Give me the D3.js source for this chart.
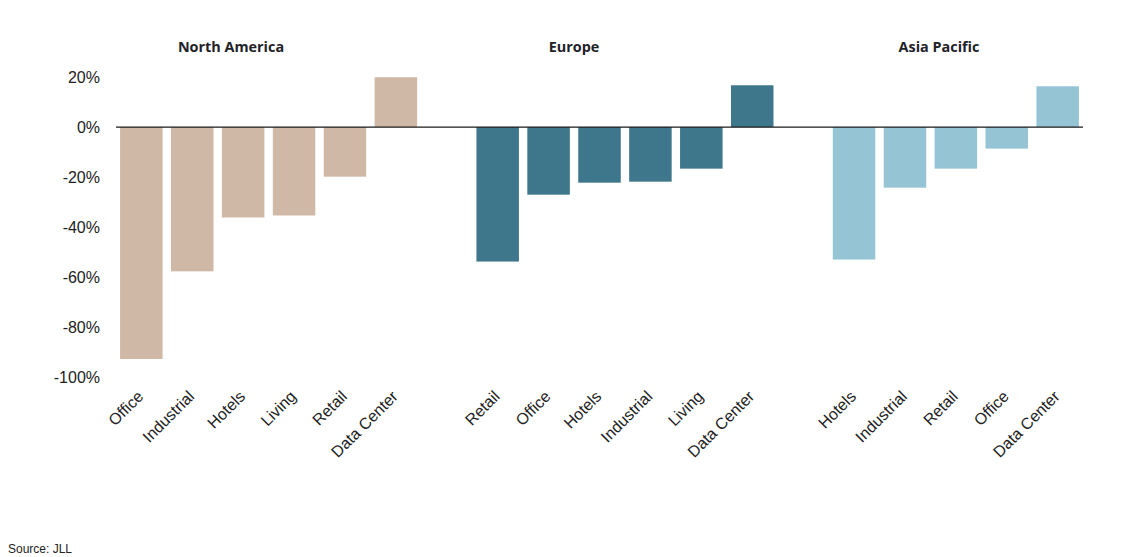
<!DOCTYPE html>
<html>
<head>
<meta charset="utf-8">
<script src="https://cdn.jsdelivr.net/npm/d3@7"></script>
<style>
  html, body { margin: 0; padding: 0; background: #fff; }
  svg { display: block; }
</style>
</head>
<body>
<svg id="chart" width="1123" height="557"></svg>
<script>
// ---- data ----
const regions = ["North America", "Europe", "Asia Pacific"];
const naCategories = ["Office", "Industrial", "Hotels", "Living", "Retail", "Data Center"];
const naValues = [-92.6, -57.6, -36.1, -35.3, -19.8, 19.9];
const euCategories = ["Retail", "Office", "Hotels", "Industrial", "Living", "Data Center"];
const euValues = [-53.7, -27.0, -22.2, -21.8, -16.6, 16.7];
const apCategories = ["Hotels", "Industrial", "Retail", "Office", "Data Center"];
const apValues = [-52.9, -24.2, -16.6, -8.6, 16.3];
const yTicks = [20, 0, -20, -40, -60, -80, -100];
const colors = ["#cfb8a6", "#3e768b", "#95c5d5"];
const sourceText = "Source: JLL";

// ---- build rows ----
const groups = [
  { name: regions[0], cats: naCategories, vals: naValues, color: colors[0] },
  { name: regions[1], cats: euCategories, vals: euValues, color: colors[1] },
  { name: regions[2], cats: apCategories, vals: apValues, color: colors[2] }
];
const domain = [];
const rows = [];
groups.forEach((g, gi) => {
  if (gi > 0) domain.push("gap" + gi);
  g.cats.forEach((c, i) => {
    const key = g.name + "|" + c;
    domain.push(key);
    rows.push({ key, cat: c, value: g.vals[i], color: g.color, group: gi });
  });
});

const svg = d3.select("#chart");
const x = d3.scaleBand().domain(domain).range([116, 1083]).paddingInner(0.165).paddingOuter(0.08);
const y = d3.scaleLinear().domain([-100, 20]).range([377.5, 77]);

// y axis labels
const yAxis = d3.axisLeft(y).tickValues(yTicks).tickSize(0).tickPadding(0).tickFormat(d => d + "%");
const yg = svg.append("g").attr("transform", "translate(100,0)").call(yAxis);
yg.select(".domain").remove();
yg.selectAll("text")
  .attr("font-family", "Arial, 'Liberation Sans', sans-serif")
  .attr("font-size", 16)
  .attr("fill", "#222");

// bars
svg.append("g").selectAll("rect").data(rows).join("rect")
  .attr("x", d => x(d.key))
  .attr("width", x.bandwidth())
  .attr("y", d => y(Math.max(0, d.value)))
  .attr("height", d => Math.abs(y(d.value) - y(0)))
  .attr("fill", d => d.color);

// zero line
svg.append("line")
  .attr("x1", x.range()[0]).attr("x2", x.range()[1])
  .attr("y1", y(0)).attr("y2", y(0))
  .attr("stroke", "#1a1a1a").attr("stroke-width", 1.2);

// x labels
svg.append("g").selectAll("text").data(rows).join("text")
  .attr("transform", d => `translate(${x(d.key) + x.bandwidth() / 2 + 3},${y(-100) + 20}) rotate(-45)`)
  .attr("text-anchor", "end")
  .attr("font-family", "Arial, 'Liberation Sans', sans-serif")
  .attr("font-size", 16)
  .attr("fill", "#222")
  .text(d => d.cat);

// region titles
const titleX = [231, 574, 939];
svg.append("g").selectAll("text").data(groups).join("text")
  .attr("x", (d, i) => titleX[i])
  .attr("y", 52)
  .attr("text-anchor", "middle")
  .attr("font-family", "'Open Sans', 'Noto Sans', sans-serif")
  .attr("font-weight", 700)
  .attr("font-size", 14.4)
  .attr("fill", "#1e2228")
  .text(d => d.name);

// source
svg.append("text")
  .attr("x", 8).attr("y", 553)
  .attr("font-family", "Arial, 'Liberation Sans', sans-serif")
  .attr("font-size", 12)
  .attr("fill", "#222")
  .text(sourceText);
</script>
</body>
</html>
